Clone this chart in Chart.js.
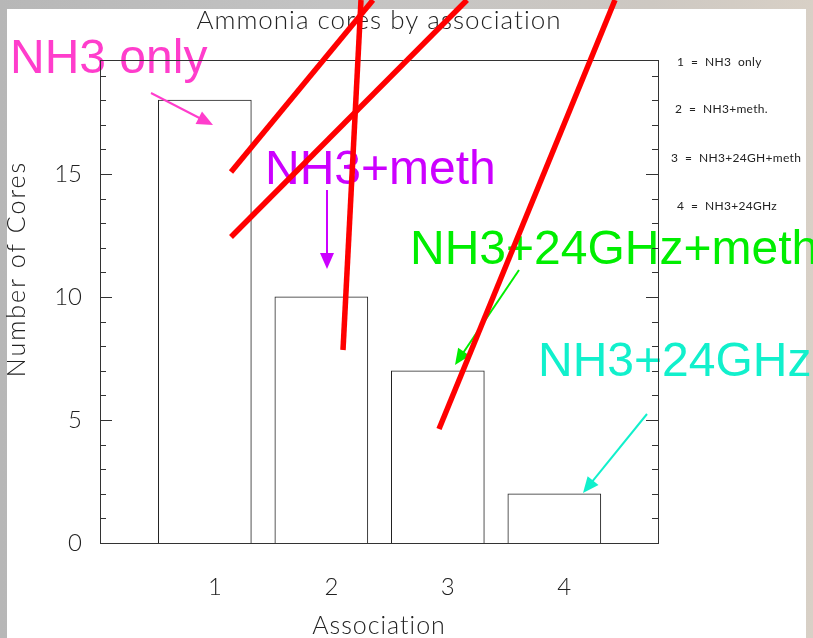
<!DOCTYPE html>
<html>
<head>
<meta charset="utf-8">
<script src="https://cdn.jsdelivr.net/npm/chart.js@4.4.1/dist/chart.umd.min.js"></script>
<style>
html, body { margin:0; padding:0; }
body { width:813px; height:638px; overflow:hidden; position:relative;
  background: linear-gradient(to right, #b7b7b7 0%, #c3c3c3 40%, #cdc8c2 80%, #d8d0c6 100%); }
#panel { position:absolute; left:7px; top:9px; width:799px; height:629px; background:#fff; }
#chart { position:absolute; left:0; top:0; }
</style>
</head>
<body>
<div id="panel"></div>
<canvas id="chart" width="813" height="638"></canvas>
<script>
// association class -> number of ammonia cores
var categories = [1, 2, 3, 4];
var counts = [18, 10, 7, 2];
var yTicks = [0, 5, 10, 15];
var legendLines = ['1  =  NH3  only', '2  =  NH3+meth.', '3  =  NH3+24GH+meth', '4  =  NH3+24GHz'];

// hand-drawn overlay on the slide
var tags = ['NH3 only', 'NH3+meth', 'NH3+24GHz+meth', 'NH3+24GHz'];
var tagColors = ['#ff3dcc', '#cc00ff', '#00ee00', '#11f0cc'];
var tagPos = [[10, 73], [265, 184], [410, 264], [538, 376]];
var arrows = [[151, 93, 213, 125], [327, 190, 327, 269], [519, 270, 455, 365], [647, 414, 583, 493]];
var strokes = [[231, 172, 373, 0], [231, 237, 467, 0], [343, 350, 361, 0], [439, 429, 615, 0]];

var thin = "'Lato', 'DejaVu Sans', sans-serif";

var overlay = {
    id: 'overlay',
    afterDatasetsDraw: function(chart) {
        var c = chart.ctx;
        c.save();
        c.font = '48px "Liberation Sans", Arial, sans-serif';
        c.textBaseline = 'alphabetic';
        c.textAlign = 'left';
        for (var i = 0; i < tags.length; i++) {
            c.fillStyle = tagColors[i];
            c.fillText(tags[i], tagPos[i][0], tagPos[i][1]);
        }
        c.restore();
    },
    afterDraw: function(chart) {
        var c = chart.ctx, a = chart.chartArea, y = chart.scales.y;
        c.save();
        // frame
        c.strokeStyle = '#333';
        c.lineWidth = 1;
        c.strokeRect(a.left + 0.5, a.top + 0.5, a.right - a.left, a.bottom - a.top);
        // inward ticks on both sides
        for (var v = 0; v <= Math.floor(y.max); v++) {
            var py = Math.round(y.getPixelForValue(v)) + 0.5;
            var len = v % 5 === 0 ? 12 : 6;
            c.beginPath();
            c.moveTo(a.left, py); c.lineTo(a.left + len, py);
            c.moveTo(a.right, py); c.lineTo(a.right - len, py);
            c.stroke();
        }
        // titles
        c.fillStyle = '#222';
        c.textAlign = 'center';
        c.textBaseline = 'middle';
        c.font = '300 26px ' + thin;
        c.letterSpacing = '1px';
        c.fillText('Ammonia cores by association', 379, 21);
        c.font = '300 25px ' + thin;
        c.fillText('Association', 379, 626);
        c.save();
        c.translate(17, 269);
        c.rotate(-Math.PI / 2);
        c.letterSpacing = '2px';
        c.fillText('Number of Cores', 0, 0);
        c.restore();
        // side legend
        c.textAlign = 'left';
        c.font = '12px ' + thin;
        c.letterSpacing = '0.3px';
        var ly = [62, 109, 158, 206], lx = [677, 675, 671, 677];
        for (var i = 0; i < legendLines.length; i++) {
            c.fillText(legendLines[i], lx[i], ly[i]);
        }
        c.letterSpacing = '0px';
        // arrows
        for (var i = 0; i < arrows.length; i++) {
            var ar = arrows[i];
            var ang = Math.atan2(ar[3] - ar[1], ar[2] - ar[0]);
            c.strokeStyle = tagColors[i];
            c.fillStyle = tagColors[i];
            c.lineWidth = 2;
            c.beginPath();
            c.moveTo(ar[0], ar[1]);
            c.lineTo(ar[2] - 12 * Math.cos(ang), ar[3] - 12 * Math.sin(ang));
            c.stroke();
            c.beginPath();
            c.moveTo(ar[2], ar[3]);
            c.lineTo(ar[2] - 16 * Math.cos(ang) + 7 * Math.sin(ang), ar[3] - 16 * Math.sin(ang) - 7 * Math.cos(ang));
            c.lineTo(ar[2] - 16 * Math.cos(ang) - 7 * Math.sin(ang), ar[3] - 16 * Math.sin(ang) + 7 * Math.cos(ang));
            c.closePath();
            c.fill();
        }
        // red strike lines
        c.strokeStyle = '#ff0000';
        c.lineWidth = 5.5;
        c.lineCap = 'butt';
        for (var i = 0; i < strokes.length; i++) {
            c.beginPath();
            c.moveTo(strokes[i][0], strokes[i][1]);
            c.lineTo(strokes[i][2], strokes[i][3]);
            c.stroke();
        }
        c.restore();
    }
};

var ctx = document.getElementById('chart').getContext('2d');
var myChart = new Chart(ctx, {
    type: 'bar',
    data: {
        datasets: [{
            label: 'Cores',
            data: categories.map(function(k, i) { return { x: k, y: counts[i] }; }),
            backgroundColor: '#ffffff',
            borderColor: '#222222',
            borderWidth: 1,
            barThickness: 93
        }]
    },
    options: {
        responsive: false,
        animation: false,
        devicePixelRatio: 1,
        layout: { padding: { left: 0, top: 60, right: 155, bottom: 0 } },
        plugins: { legend: { display: false }, tooltip: { enabled: false } },
        scales: {
            x: {
                type: 'linear',
                offset: false,
                min: 0.1,
                max: 4.89,
                grid: { display: false, offset: false },
                border: { display: false },
                afterFit: function(s) { s.height = 95; },
                afterBuildTicks: function(s) { s.ticks = categories.map(function(v) { return { value: v }; }); },
                ticks: { padding: 22, labelOffset: 10, color: '#222', font: { family: thin, size: 24, weight: 300 } }
            },
            y: {
                min: 0,
                max: 19.63,
                grid: { display: false },
                border: { display: false },
                afterFit: function(s) { s.width = 100; },
                afterBuildTicks: function(s) { s.ticks = yTicks.map(function(v) { return { value: v }; }); },
                ticks: { padding: 10, color: '#222', font: { family: thin, size: 24, weight: 300 } }
            }
        }
    },
    plugins: [overlay]
});
</script>
</body>
</html>
